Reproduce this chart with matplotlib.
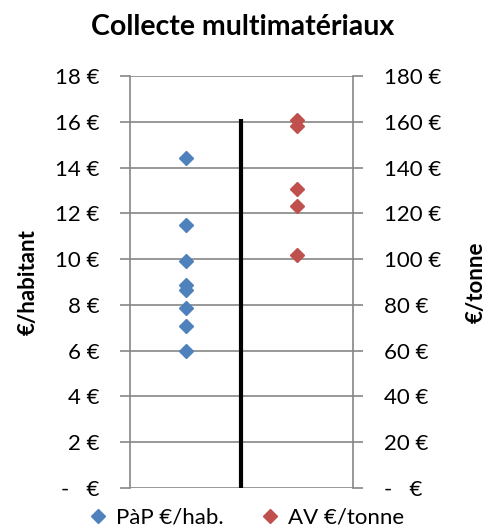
import matplotlib.pyplot as plt

plt.rcParams['font.family'] = ['Lato', 'DejaVu Sans']

# data
pap_hab = [14.4, 11.5, 9.9, 8.85, 8.65, 7.85, 7.1, 6.0]        # €/habitant (left axis)
av_tonne = [160.9, 158.0, 130.8, 123.1, 101.6]                 # €/tonne (right axis)
separator = [0, 16.1]                                          # black divider, left scale
left_ticks = [0, 2, 4, 6, 8, 10, 12, 14, 16, 18]
right_ticks = [0, 20, 40, 60, 80, 100, 120, 140, 160, 180]

blue = '#4F81BD'
red = '#C0504D'
grid = '#868686'
fs = 16


def euro(v):
    return '-   €' if v == 0 else f'{v} €'


fig = plt.figure(figsize=(4.86, 5.30), dpi=100)
ax = fig.add_axes([0.2675, 0.0792, 0.4588, 0.7774])
ax2 = ax.twinx()

ax.plot([1] * len(pap_hab), pap_hab, 'D', color=blue, ms=7, mec=blue, zorder=3)
ax.plot([2, 2], separator, color='black', lw=3, solid_capstyle='butt', zorder=3)
ax2.plot([3] * len(av_tonne), av_tonne, 'D', color=red, ms=7, mec=red, zorder=3)

ax.set_xlim(0, 4)
ax.set_ylim(0, 18)
ax2.set_ylim(0, 180)
ax.set_xticks([])

ax.set_yticks(left_ticks)
ax.set_yticklabels([euro(v) for v in left_ticks])
ax2.set_yticks(right_ticks)
ax2.set_yticklabels([euro(v) for v in right_ticks])

for a in (ax, ax2):
    a.tick_params(axis='y', length=7, width=1.2, color=grid, labelsize=fs, pad=15)
    for s in a.spines.values():
        s.set_visible(False)

ax.yaxis.grid(True, color=grid, lw=1.2)
ax.set_axisbelow(True)
for side in ('left', 'right'):
    ax.spines[side].set_visible(True)
    ax.spines[side].set_color(grid)
    ax.spines[side].set_linewidth(1.2)

ax.set_ylabel('€/habitant', fontsize=fs, fontweight='bold', labelpad=12)
ax2.set_ylabel('€/tonne', fontsize=fs, fontweight='bold', labelpad=18)

fig.text(0.5, 0.934, 'Collecte multimatériaux', fontsize=20.5, fontweight='bold',
         ha='center', va='baseline')

h1 = plt.Line2D([], [], marker='D', color=blue, ls='', ms=7)
h2 = plt.Line2D([], [], marker='D', color=red, ls='', ms=7)
fig.legend([h1, h2], ['PàP €/hab.', 'AV €/tonne'], loc='lower center',
           bbox_to_anchor=(0.505, -0.033), ncol=2, frameon=False, fontsize=fs,
           handletextpad=0.3, columnspacing=1.6, handlelength=1.0)

fig.savefig('out.png', dpi=100)
